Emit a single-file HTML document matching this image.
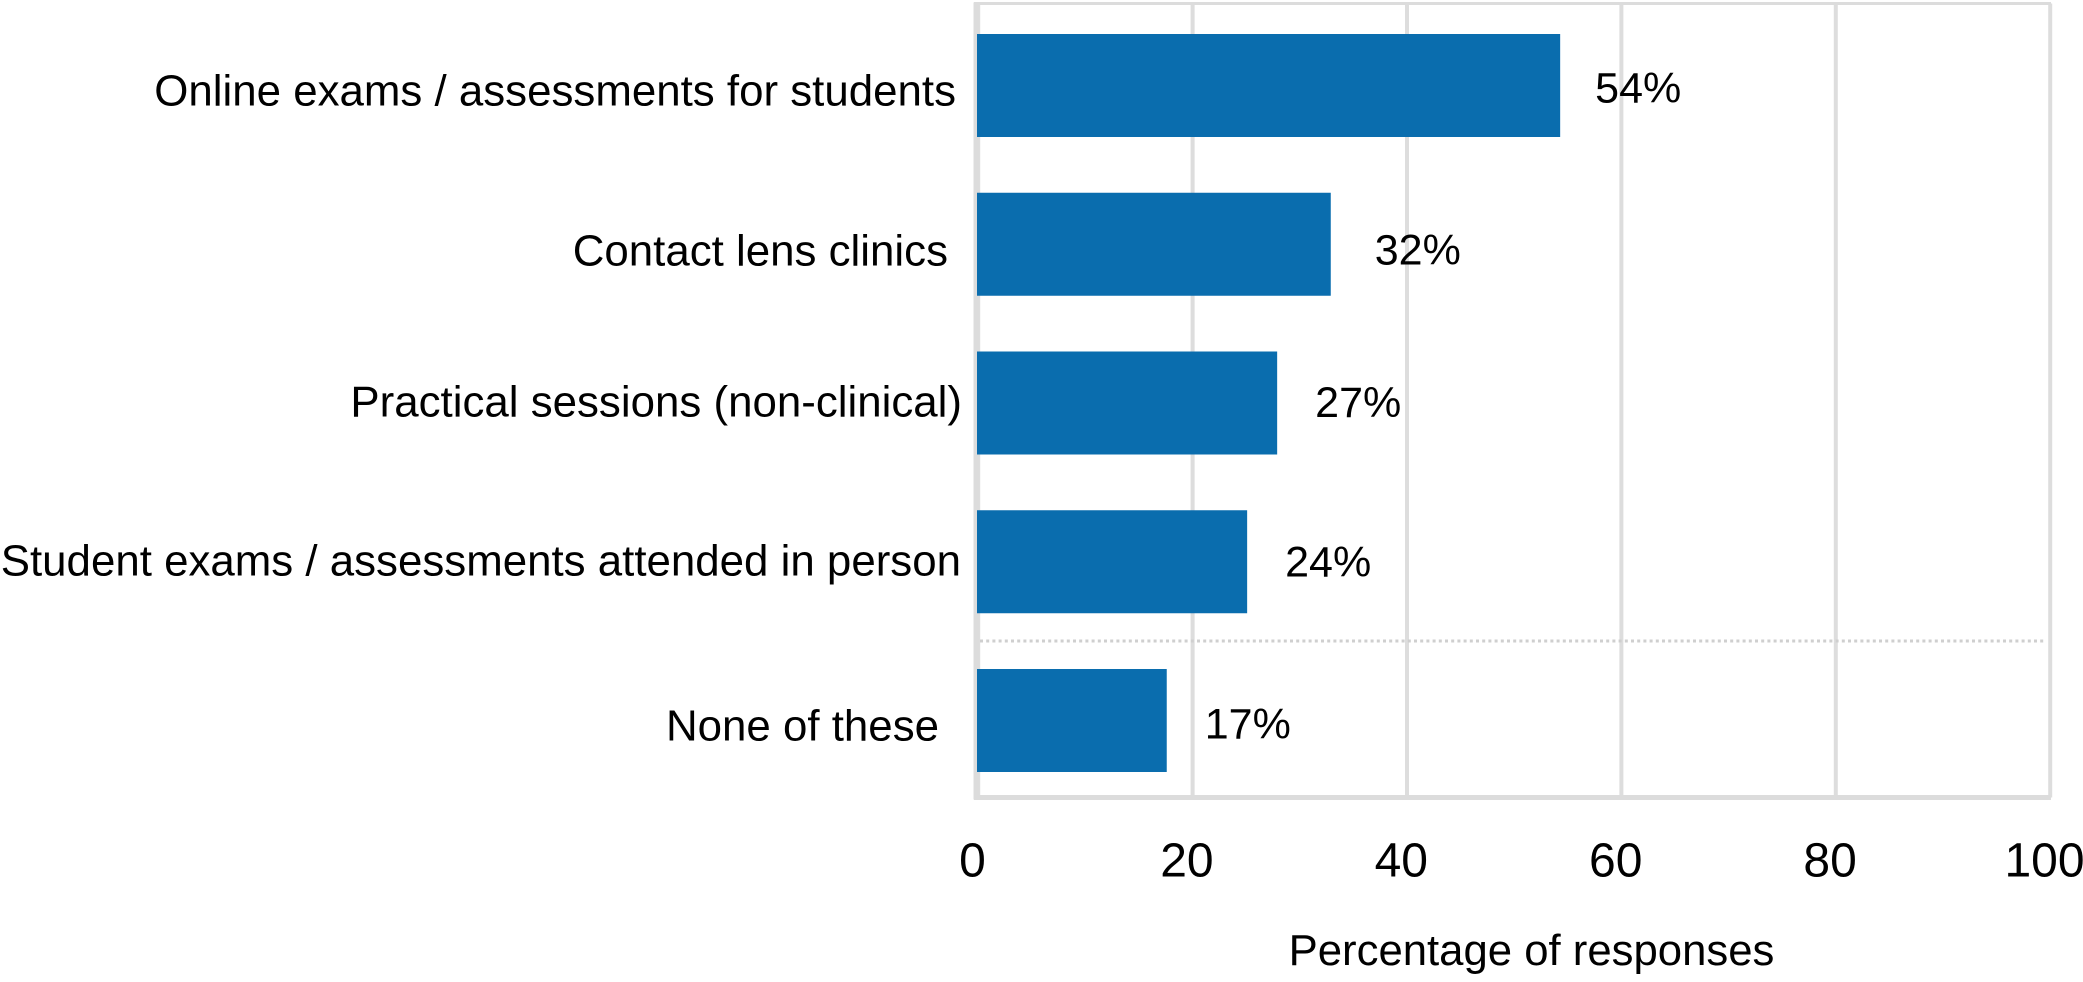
<!DOCTYPE html>
<html lang="en">
<head>
<meta charset="utf-8">
<title>Percentage of responses</title>
<style>
  html, body { margin: 0; padding: 0; background: #fff; width: 2083px; height: 982px; overflow: hidden; }
  svg { display: block; }
  text { font-family: "Liberation Sans", Arial, sans-serif; fill: #000; font-kerning: none; }
</style>
</head>
<body>
<svg id="chart" xmlns="http://www.w3.org/2000/svg" width="2083" height="982" viewBox="0 0 2083 982">
  <rect x="0" y="0" width="2083" height="982" fill="#ffffff"/>
  <g id="grid"></g>
  <g id="frame"></g>
  <g id="bars"></g>
  <g id="cats"></g>
  <g id="vals"></g>
  <g id="ticks"></g>
  <text x="1531.5" y="965" text-anchor="middle" font-size="43.7">Percentage of responses</text>
</svg>
<script>
const categories = [
  "Online exams / assessments for students",
  "Contact lens clinics",
  "Practical sessions (non-clinical)",
  "Student exams / assessments attended in person",
  "None of these"
];
const barValues = [54.4, 33.0, 28.0, 25.2, 17.7];
const printedLabels = ["54%", "32%", "27%", "24%", "17%"];
const axisTicks = [0, 20, 40, 60, 80, 100];

const NS = "http://www.w3.org/2000/svg";
const plot = { left: 977, right: 2049, top: 3.5, bottom: 797.5, firstBarTop: 34, step: 158.75, barHeight: 103 };

function xScale(v) { return plot.left + (plot.right - plot.left) * v / 100; }
function bandTop(i) { return plot.firstBarTop + plot.step * i; }
function bandMid(i) { return bandTop(i) + plot.barHeight / 2; }

function make(tag, attrs, parent, text) {
  const el = document.createElementNS(NS, tag);
  for (const k in attrs) el.setAttribute(k, attrs[k]);
  if (text !== undefined) el.textContent = text;
  parent.appendChild(el);
  return el;
}

const gridG = document.getElementById("grid");
const frameG = document.getElementById("frame");
const barsG = document.getElementById("bars");
const catsG = document.getElementById("cats");
const valsG = document.getElementById("vals");
const ticksG = document.getElementById("ticks");

axisTicks.forEach(function (t) {
  const line = make("line", { x1: xScale(t) + 1.2, x2: xScale(t) + 1.2, y1: plot.top, y2: plot.bottom, stroke: "#dddddd", "stroke-width": 4 }, gridG);
  
  

  const label = make("text", { x: xScale(t) - 4.5, y: 876.5, "text-anchor": "middle", "font-size": 48 }, ticksG, String(t));
  
  
});

const axisLeft = make("line", { x1: plot.left - 1, x2: plot.left - 1, y1: plot.top - 1, y2: plot.bottom + 2, stroke: "#dcdcdc", "stroke-width": 5 }, frameG);



const axisBottom = make("line", { x1: plot.left - 3, x2: plot.right + 2, y1: plot.bottom, y2: plot.bottom, stroke: "#dcdcdc", "stroke-width": 5 }, frameG);



const axisTop = make("line", { x1: plot.left - 3, x2: plot.right + 2, y1: plot.top, y2: plot.top, stroke: "#dcdcdc", "stroke-width": 3 }, frameG);



const divider = make("line", { x1: plot.left + 3, x2: plot.right - 3, y1: 641, y2: 641, stroke: "#cfcfcf", "stroke-width": 3, "stroke-dasharray": "3 3.2" }, frameG);



categories.forEach(function (name, i) {
  const bar = make("rect", { x: xScale(0), y: bandTop(i), width: xScale(barValues[i]) - xScale(0), height: plot.barHeight, fill: "#0a6dae" }, barsG);
  
  

  // hand-placed label offsets from the original typesetting
  const catRight = i === 0 ? 956 : i === 1 ? 948 : i === 2 ? 962 : i === 3 ? 961 : 939;
  const catDrop = i === 0 ? 20 : i === 1 ? 21 : i === 2 ? 13.5 : i === 3 ? 13.5 : 20;
  const cat = make("text", { x: catRight, y: bandMid(i) + catDrop, "text-anchor": "end", "font-size": 43.85 }, catsG, name);
  
  

  const gap = i === 0 ? 35 : i === 1 ? 44 : 38;
  const valDrop = i === 0 ? 17 : i === 1 ? 20 : i === 2 ? 14 : i === 3 ? 14.5 : 18;
  const val = make("text", { x: xScale(barValues[i]) + gap, y: bandMid(i) + valDrop, "text-anchor": "start", "font-size": 43 }, valsG, printedLabels[i]);
  
  
});
</script>
</body>
</html>
